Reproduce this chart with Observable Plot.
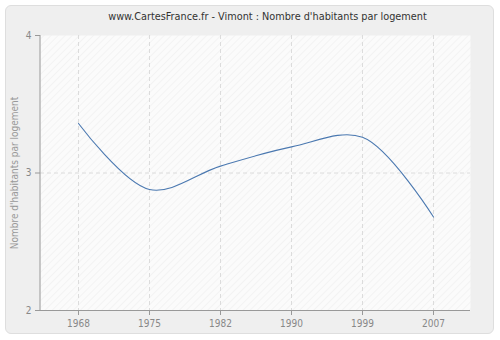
<!DOCTYPE html>
<html><head><meta charset="utf-8">
<script src="https://cdn.jsdelivr.net/npm/d3@7"></script>
<script src="https://cdn.jsdelivr.net/npm/@observablehq/plot@0.6"></script>
<style>
html,body{margin:0;padding:0;background:#fff;width:500px;height:340px;overflow:hidden;font-family:"DejaVu Sans Condensed","DejaVu Sans",sans-serif;}
#panel{position:absolute;left:5px;top:5px;width:487px;height:327px;background:#efefef;border:1px solid #dedede;border-radius:6px;}
#title{position:absolute;left:0;width:535px;top:10px;text-align:center;font-size:10.8px;color:#333;white-space:nowrap;}
#chart{position:absolute;left:0;top:0;}
</style></head><body>
<div id="panel"></div>
<div id="title">www.CartesFrance.fr - Vimont : Nombre d'habitants par logement</div>
<div id="chart"></div>
<script>
const years = ["1968", "1975", "1982", "1990", "1999", "2007"];
const values = [3.36, 2.88, 3.05, 3.19, 3.26, 2.68];
const yTicks = [2, 3, 4];
const yLabel = "Nombre d'habitants par logement";
const data = years.map((y, i) => ({year: y, value: values[i]}));

const plot = Plot.plot({
  width: 500,
  height: 340,
  marginLeft: 40,
  marginRight: 30,
  marginTop: 35,
  marginBottom: 30,
  style: {background: "transparent", fontFamily: "'DejaVu Sans Condensed','DejaVu Sans',sans-serif", fontSize: "10px", color: "#888"},
  x: {type: "point", domain: years, padding: 0.5, label: null},
  y: {domain: [2, 4], label: null},
  marks: [
    Plot.frame({fill: "url(#hatch)", stroke: null}),
    Plot.gridX(years, {stroke: "#dcdcdc", strokeOpacity: 1, strokeDasharray: "4,3"}),
    Plot.gridY([3], {stroke: "#dcdcdc", strokeOpacity: 1, strokeDasharray: "4,3"}),
    Plot.axisY(yTicks, {tickSize: 5, tickPadding: 4, tickFormat: d3.format("d"), stroke: "#999", fill: "#888", label: null}),
    Plot.axisX(years, {tickSize: 5, tickPadding: 4, stroke: "#999", fill: "#888", label: null}),
    Plot.ruleY([2], {stroke: "#999"}),
    Plot.text([yLabel], {frameAnchor: "left", textAnchor: "middle", dx: -26, rotate: -90, fill: "#999", fontSize: 10}),
    Plot.line(data, {x: "year", y: "value", curve: "catmull-rom", stroke: "#4a78b0", strokeWidth: 1.1})
  ]
});

const svg = d3.select(plot);
const defs = svg.insert("defs", ":first-child");
const pat = defs.append("pattern").attr("id", "hatch").attr("patternUnits", "userSpaceOnUse")
  .attr("width", 5).attr("height", 5).attr("patternTransform", "rotate(45)");
pat.append("rect").attr("width", 5).attr("height", 5).attr("fill", "#fbfbfb");
pat.append("line").attr("x1", 0).attr("y1", 0).attr("x2", 0).attr("y2", 5).attr("stroke", "#ebebeb").attr("stroke-width", 1);
// left axis line
const ys = plot.scale("y");
svg.append("line").attr("x1", 40).attr("x2", 40).attr("y1", ys.apply(4)).attr("y2", ys.apply(2)).attr("stroke", "#999");
document.getElementById("chart").appendChild(plot);
</script>
</body></html>
